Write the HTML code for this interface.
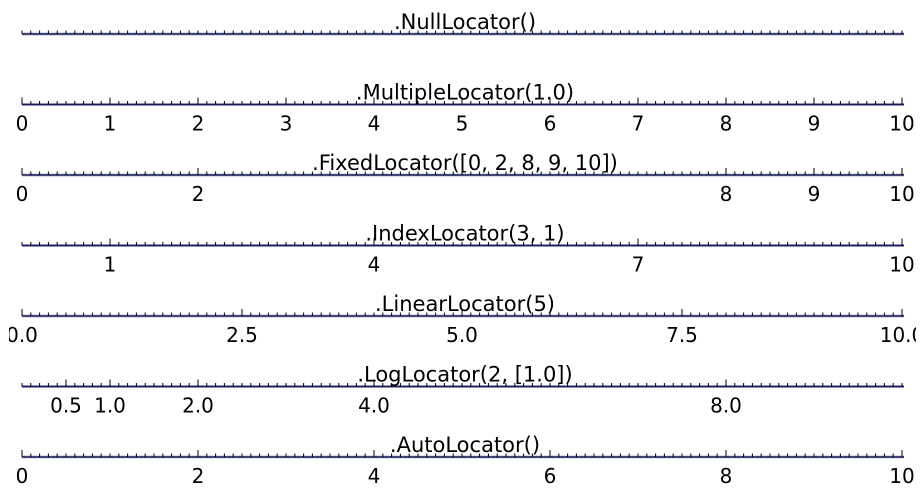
<!DOCTYPE html>
<html><head><meta charset="utf-8"><style>
html,body{margin:0;padding:0;background:#fff;width:924px;height:496px;overflow:hidden}
svg{display:block}
text{font-family:"DejaVu Sans","Liberation Sans",sans-serif;fill:#000}
</style></head><body>
<svg id="s" width="924" height="496" xmlns="http://www.w3.org/2000/svg"></svg>
<script>
const s=document.getElementById('s');
const X=v=>22+88*v;
const rows=[
 ['.NullLocator()',[],null],
 ['.MultipleLocator(1.0)',[0,1,2,3,4,5,6,7,8,9,10],v=>String(v)],
 ['.FixedLocator([0, 2, 8, 9, 10])',[0,2,8,9,10],v=>String(v)],
 ['.IndexLocator(3, 1)',[1,4,7,10],v=>String(v)],
 ['.LinearLocator(5)',[0,2.5,5,7.5,10],v=>v.toFixed(1)],
 ['.LogLocator(2, [1.0])',[0.5,1,2,4,8],v=>v.toFixed(1)],
 ['.AutoLocator()',[0,2,4,6,8,10],v=>String(v)]
];
let h='<defs><clipPath id="c"><rect x="9" y="0" width="907" height="496"/></clipPath></defs><g clip-path="url(#c)">';
rows.forEach((r,i)=>{
 const y=34+70.5*i;
 h+=`<line x1="22" y1="${y}" x2="904" y2="${y}" stroke="#b8bce0" stroke-width="3"/>`;
 h+=`<line x1="22" y1="${y}" x2="904" y2="${y}" stroke="#1c1c50" stroke-width="1.4"/>`;
 for(let k=0;k<=100;k++){const x=X(k/10);h+=`<line x1="${x}" y1="${y}" x2="${x}" y2="${y-3.5}" stroke="#000" stroke-width="1"/>`;}
 r[1].forEach(v=>{const x=X(v);h+=`<line x1="${x}" y1="${y}" x2="${x}" y2="${y-7}" stroke="#000" stroke-width="1"/>`;
  h+=`<text x="${x}" y="${y+26}" font-size="20" text-anchor="middle">${r[2](v)}</text>`;});
 h+=`<text x="465" y="${y-5}" font-size="21" text-anchor="middle">${r[0]}</text>`;
});
h+='</g>';
s.innerHTML=h;
</script>
</body></html>
